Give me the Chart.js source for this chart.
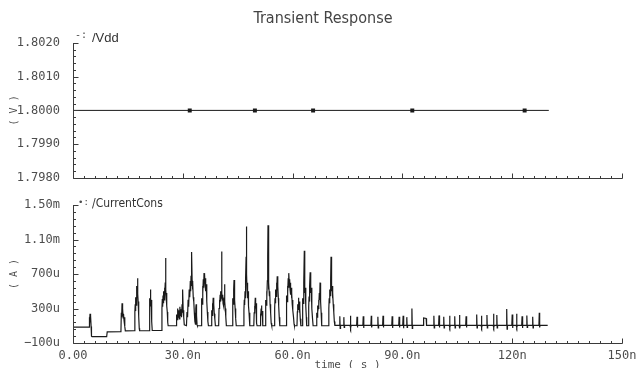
<!DOCTYPE html>
<html>
<head>
<meta charset="utf-8">
<script src="https://cdn.jsdelivr.net/npm/chart.js@4.4.1/dist/chart.umd.min.js"></script>
<style>
  html, body { margin: 0; padding: 0; background: #fff; }
  #wrap { position: relative; width: 638px; height: 368px; overflow: hidden; }
  .pane { position: absolute; left: 0; width: 638px; }
  #vddPane { top: 0; height: 190px; }
  #curPane { top: 190px; height: 178px; }
</style>
</head>
<body>
<div id="wrap">
  <div class="pane" id="vddPane"><canvas id="vddChart" width="638" height="190"></canvas></div>
  <div class="pane" id="curPane"><canvas id="curChart" width="638" height="178"></canvas></div>
</div>
<script>
// time axis (ns)
const xTickValues = [0, 30, 60, 90, 120, 150];
const xTickLabels = ["0.00", "30.0n", "60.0n", "90.0n", "120n", "150n"];

// /Vdd (V)
const vddTickValues = [1.798, 1.799, 1.8, 1.801, 1.802];
const vddTickLabels = ["1.7980", "1.7990", "1.8000", "1.8010", "1.8020"];
const vddTime = [0, 130];
const vddLevel = [1.8, 1.8];
const vddMarkerTime = [31.9, 49.7, 65.6, 92.7, 123.4];

// /CurrentCons (uA) as [time ns, current uA]
const curTickValues = [-100, 300, 700, 1100, 1500];
const curTickLabels = ["\u2212100u", "300u", "700u", "1.10m", "1.50m"];
const currentTrace = [
  [0,85],[4.4,85],[4.45,200],[4.55,110],[4.65,240],[4.75,140],[4.85,215],[4.95,90],[5.05,-20],[5.2,-25],[9.2,-25],[9.35,30],[13.1,32],
  [13.2,250],[13.3,200],[13.4,360],[13.5,210],[13.6,300],[13.7,190],[13.8,240],[13.95,160],[14.1,200],[14.2,90],[14.3,40],
  [16.8,42],
  [16.9,260],[17.0,350],[17.08,270],[17.16,430],[17.24,340],[17.32,520],[17.4,400],[17.48,560],[17.56,430],[17.64,650],[17.72,470],[17.8,380],[17.9,300],[18.0,210],[18.1,70],[18.2,42],
  [20.8,42],
  [20.9,300],[21.0,420],[21.08,330],[21.16,520],[21.25,340],[21.35,400],[21.45,260],[21.55,150],[21.65,45],
  [24.2,45],
  [24.3,300],[24.4,410],[24.5,320],[24.6,450],[24.7,360],[24.8,500],[24.9,400],[25.0,540],[25.1,440],[25.2,600],[25.3,885],[25.38,520],[25.46,430],[25.56,480],[25.66,330],[25.76,260],[25.88,140],[26.0,100],
  [28.2,100],
  [28.3,230],[28.45,170],[28.6,300],[28.75,200],[28.9,280],[29.05,180],[29.2,320],[29.35,220],[29.5,290],[29.65,200],[29.8,350],[29.9,250],[30.0,520],[30.1,280],[30.25,200],[30.4,110],
  [31.0,100],
  [31.15,260],[31.3,200],[31.45,400],[31.6,320],[31.75,520],[31.9,430],[32.05,620],[32.15,500],[32.25,680],[32.35,560],[32.45,955],[32.55,620],[32.65,520],[32.75,600],[32.85,430],[33.0,380],[33.15,250],[33.3,150],[33.45,120],[33.55,300],[33.65,350],[33.75,220],[33.9,110],[34.0,100],
  [35.0,100],
  [35.1,300],[35.2,420],[35.3,350],[35.4,560],[35.5,470],[35.6,640],[35.7,540],[35.8,710],[35.9,590],[36.0,690],[36.1,560],[36.2,650],[36.3,500],[36.4,580],[36.5,420],[36.6,380],[36.7,260],[36.85,150],[37.0,100],
  [37.8,100],
  [37.9,280],[38.0,220],[38.1,360],[38.2,260],[38.3,425],[38.4,300],[38.5,350],[38.6,240],[38.75,180],[38.9,100],
  [39.8,100],
  [39.9,300],[40.0,400],[40.1,330],[40.2,460],[40.3,380],[40.4,500],[40.5,420],[40.6,960],[40.7,480],[40.8,400],[40.9,460],[41.0,360],[41.1,420],[41.2,330],[41.3,400],[41.4,580],[41.5,380],[41.6,300],[41.75,200],[41.9,100],
  [43.5,100],
  [43.6,300],[43.7,420],[43.8,350],[43.9,520],[44.0,630],[44.1,480],[44.2,400],[44.3,300],[44.45,180],[44.6,100],
  [46.6,100],
  [46.7,280],[46.8,400],[46.9,340],[47.0,500],[47.1,420],[47.2,640],[47.3,900],[47.38,1250],[47.46,700],[47.55,520],[47.65,600],[47.75,420],[47.85,500],[47.95,330],[48.1,250],[48.25,120],[48.35,100],
  [49.4,100],
  [49.5,250],[49.6,330],[49.7,270],[49.8,425],[49.9,300],[50.0,360],[50.1,220],[50.2,130],[50.3,100],
  [51.1,100],
  [51.2,240],[51.3,190],[51.4,300],[51.5,335],[51.6,220],[51.7,270],[51.8,150],[51.9,100],
  [52.5,100],
  [52.6,300],[52.7,400],[52.8,340],[52.9,500],[53.0,430],[53.1,620],[53.2,900],[53.28,1265],[53.36,700],[53.45,520],[53.55,600],[53.65,450],[53.75,500],[53.85,350],[54.0,250],[54.15,130],[54.3,100],
  [55.0,100],
  [55.1,300],[55.2,420],[55.3,360],[55.4,520],[55.5,440],[55.6,600],[55.7,500],[55.8,675],[55.9,520],[56.0,560],[56.1,420],[56.2,330],[56.35,200],[56.5,100],
  [58.2,100],
  [58.3,300],[58.4,450],[58.5,380],[58.6,560],[58.7,480],[58.8,650],[58.9,540],[59.0,710],[59.1,580],[59.2,640],[59.3,520],[59.4,600],[59.5,460],[59.6,540],[59.7,420],[59.8,480],[59.9,350],[60.0,400],[60.1,280],[60.25,200],[60.4,120],[60.5,100],
  [61.2,100],
  [61.3,260],[61.4,350],[61.5,290],[61.6,425],[61.7,320],[61.8,380],[61.9,250],[62.0,300],[62.1,180],[62.25,100],
  [62.6,100],
  [62.7,300],[62.8,420],[62.9,360],[63.0,520],[63.1,600],[63.2,970],[63.28,620],[63.36,480],[63.45,540],[63.55,400],[63.65,330],[63.75,200],[63.85,100],
  [64.3,100],
  [64.4,320],[64.5,440],[64.6,380],[64.7,560],[64.8,720],[64.9,560],[65.0,480],[65.1,540],[65.2,400],[65.3,300],[65.45,180],[65.6,100],
  [66.5,100],
  [66.6,250],[66.7,200],[66.8,335],[66.9,260],[67.0,300],[67.1,400],[67.2,330],[67.3,480],[67.4,400],[67.5,600],[67.6,450],[67.7,380],[67.8,250],[67.95,100],
  [69.8,100],
  [69.9,300],[70.0,420],[70.1,360],[70.2,520],[70.3,450],[70.4,640],[70.5,900],[70.6,620],[70.7,500],[70.8,560],[70.9,420],[71.0,480],[71.1,350],[71.25,260],[71.4,150],[71.55,105],
  [72.8,105],[72.9,210],[73.0,70],[73.1,105],
  [73.9,105],[74.0,200],[74.1,80],[74.2,105],
  [75.7,105],[75.8,215],[75.9,75],[76.0,105],
  [77.5,105],[77.6,205],[77.7,80],[77.8,105],
  [79.2,105],[79.3,210],[79.4,75],[79.5,105],
  [81.4,105],[81.5,215],[81.6,80],[81.7,105],
  [83.2,105],[83.3,205],[83.4,75],[83.5,105],
  [84.6,105],[84.7,215],[84.8,80],[84.9,105],
  [87.1,105],[87.2,210],[87.3,75],[87.4,105],
  [89.0,105],[89.1,205],[89.2,80],[89.3,105],
  [90.1,105],[90.2,215],[90.3,70],[90.4,105],
  [91.1,105],[91.2,200],[91.3,80],[91.4,105],
  [92.5,105],[92.6,300],[92.7,70],[92.8,105],
  [95.7,105],[95.8,190],[96.5,185],[96.6,105],
  [98.5,105],[98.6,215],[98.7,75],[98.8,105],
  [99.9,105],[100.0,220],[100.1,80],[100.2,105],
  [101.2,105],[101.3,205],[101.4,75],[101.5,105],
  [102.8,105],[102.9,215],[103.0,80],[103.1,105],
  [104.2,105],[104.3,210],[104.4,75],[104.5,105],
  [105.5,105],[105.6,225],[105.7,70],[105.8,105],
  [107.3,105],[107.4,210],[107.5,80],[107.6,105],
  [110.2,105],[110.3,230],[110.4,75],[110.5,105],
  [111.5,105],[111.6,215],[111.7,80],[111.8,105],
  [113.0,105],[113.1,225],[113.2,75],[113.3,105],
  [114.8,105],[114.9,240],[115.0,80],[115.1,105],
  [115.7,105],[115.8,225],[115.9,75],[116.0,105],
  [118.4,105],[118.5,295],[118.6,60],[118.7,105],
  [119.9,105],[120.0,230],[120.1,75],[120.2,105],
  [121.1,105],[121.2,240],[121.3,80],[121.4,105],
  [122.6,105],[122.7,210],[122.8,75],[122.9,105],
  [123.9,105],[124.0,220],[124.1,80],[124.2,105],
  [125.5,105],[125.6,205],[125.7,75],[125.8,105],
  [127.3,105],[127.4,250],[127.5,80],[127.6,105],
  [129.7,105],
];

const monoFont = "'DejaVu Sans Mono', 'Liberation Mono', monospace";
const narrowFont = "'Liberation Sans Narrow', 'DejaVu Sans Condensed', sans-serif";
const inkText = "#4d4d4d";
const inkAxis = "#3a3a3a";
const inkTrace = "#1a1a1a";

// inward-pointing major/minor ticks and the two axis lines
const cadenceAxes = {
  id: "cadenceAxes",
  afterDatasetsDraw(chart, args, opts) {
    const { ctx, chartArea: a, scales } = chart;
    const xs = scales.x, ys = scales.y;
    ctx.save();
    ctx.strokeStyle = inkAxis;
    ctx.lineWidth = 1;
    ctx.beginPath();
    const left = Math.round(a.left) + 0.5;
    const bottom = Math.round(a.bottom) + 0.5;
    ctx.moveTo(left, Math.round(a.top));
    ctx.lineTo(left, bottom);
    ctx.lineTo(Math.round(a.right) + 0.5, bottom);

    const nx = Math.round((xs.max - xs.min) / opts.xMinor);
    for (let i = 0; i <= nx; i++) {
      const px = Math.round(xs.getPixelForValue(xs.min + i * opts.xMinor)) + 0.5;
      const len = i % opts.xPer === 0 ? 5 : 2.5;
      ctx.moveTo(px, bottom);
      ctx.lineTo(px, bottom - len);
    }
    const ny = Math.round((ys.max - ys.min) / opts.yMinor);
    for (let i = 0; i <= ny; i++) {
      const py = Math.round(ys.getPixelForValue(ys.min + i * opts.yMinor)) + 0.5;
      const len = i % opts.yPer === 0 ? 5 : 2.5;
      ctx.moveTo(left, py);
      ctx.lineTo(left + len, py);
    }
    ctx.stroke();
    ctx.restore();
  },
};

// free text: title and trace names
const plotLabels = {
  id: "plotLabels",
  afterDraw(chart, args, opts) {
    const ctx = chart.ctx;
    ctx.save();
    ctx.textBaseline = "middle";
    for (const t of opts.items) {
      ctx.font = t.font;
      ctx.fillStyle = t.color || inkText;
      ctx.textAlign = t.align || "left";
      ctx.fillText(t.text, t.x, t.y);
    }
    ctx.restore();
  },
};

function fixedTicks(values) {
  return (scale) => {
    scale.ticks = values.map((v) => ({ value: v }));
  };
}

const yTickStyle = (labels) => ({
  autoSkip: false,
  padding: 5,
  color: inkText,
  font: { family: monoFont, size: 12 },
  callback: (v, i) => labels[i],
});

const vddChart = new Chart(document.getElementById("vddChart"), {
  type: "line",
  data: {
    datasets: [
      {
        data: vddTime.map((t, i) => ({ x: t, y: vddLevel[i] })),
        borderColor: inkTrace,
        borderWidth: 1,
        pointRadius: 0,
      },
      {
        data: vddMarkerTime.map((t) => ({ x: t, y: vddLevel[0] })),
        showLine: false,
        pointStyle: "rect",
        pointRadius: 2.8,
        backgroundColor: inkTrace,
        borderColor: inkTrace,
        borderWidth: 0,
      },
    ],
  },
  options: {
    responsive: false,
    animation: false,
    layout: { padding: { top: 43, right: 16, left: 0, bottom: 0 } },
    plugins: {
      legend: { display: false },
      tooltip: { enabled: false },
      cadenceAxes: { xMinor: 3, xPer: 10, yMinor: 0.0002, yPer: 5 },
      plotLabels: {
        items: [
          { text: "Transient Response", x: 323, y: 19, font: "16px " + narrowFont, align: "center", color: "#444" },
          { text: "-:", x: 75, y: 35, font: "10px " + monoFont },
          { text: "/Vdd", x: 92, y: 38, font: "13px 'Liberation Sans', Arial, sans-serif", color: "#333" },
        ],
      },
    },
    scales: {
      x: {
        type: "linear",
        min: 0,
        max: 150,
        grid: { display: false },
        border: { display: false },
        ticks: { display: false },
        afterBuildTicks: fixedTicks(xTickValues),
        afterFit: (s) => { s.height = 11; },
      },
      y: {
        min: 1.798,
        max: 1.802,
        grid: { display: false },
        border: { display: false },
        ticks: yTickStyle(vddTickLabels),
        afterBuildTicks: fixedTicks(vddTickValues),
        afterFit: (s) => { s.width = 73; },
        title: {
          display: true,
          text: "( V )",
          color: inkText,
          font: { family: monoFont, size: 10 },
          padding: { top: 8, bottom: 0 },
        },
      },
    },
  },
  plugins: [cadenceAxes, plotLabels],
});

const curChart = new Chart(document.getElementById("curChart"), {
  type: "line",
  data: {
    datasets: [
      {
        data: currentTrace.map((p) => ({ x: p[0], y: p[1] })),
        borderColor: inkTrace,
        borderWidth: 1.2,
        pointRadius: 0,
        tension: 0,
      },
    ],
  },
  options: {
    responsive: false,
    animation: false,
    layout: { padding: { top: 15, right: 16, left: 0, bottom: 0 } },
    plugins: {
      legend: { display: false },
      tooltip: { enabled: false },
      cadenceAxes: { xMinor: 3, xPer: 10, yMinor: 80, yPer: 5 },
      plotLabels: {
        items: [
          { text: "\u2022:", x: 78, y: 13, font: "9px " + monoFont },
          { text: "/CurrentCons", x: 92, y: 14, font: "12px " + narrowFont, color: "#333" },
        ],
      },
    },
    scales: {
      x: {
        type: "linear",
        min: 0,
        max: 150,
        grid: { display: false },
        border: { display: false },
        ticks: {
          autoSkip: false,
          maxRotation: 0,
          padding: -2,
          color: inkText,
          font: { family: monoFont, size: 12 },
          callback: (v, i) => xTickLabels[i],
        },
        afterBuildTicks: fixedTicks(xTickValues),
        afterFit: (s) => { s.height = 25; },
        title: {
          display: true,
          text: "time ( s )",
          color: inkText,
          font: { family: monoFont, size: 11 },
          padding: { top: 0, bottom: -4 },
        },
      },
      y: {
        min: -100,
        max: 1500,
        grid: { display: false },
        border: { display: false },
        ticks: yTickStyle(curTickLabels),
        afterBuildTicks: fixedTicks(curTickValues),
        afterFit: (s) => { s.width = 73; },
        title: {
          display: true,
          text: "( A )",
          color: inkText,
          font: { family: monoFont, size: 10 },
          padding: { top: 8, bottom: 0 },
        },
      },
    },
  },
  plugins: [cadenceAxes, plotLabels],
});
</script>
</body>
</html>
